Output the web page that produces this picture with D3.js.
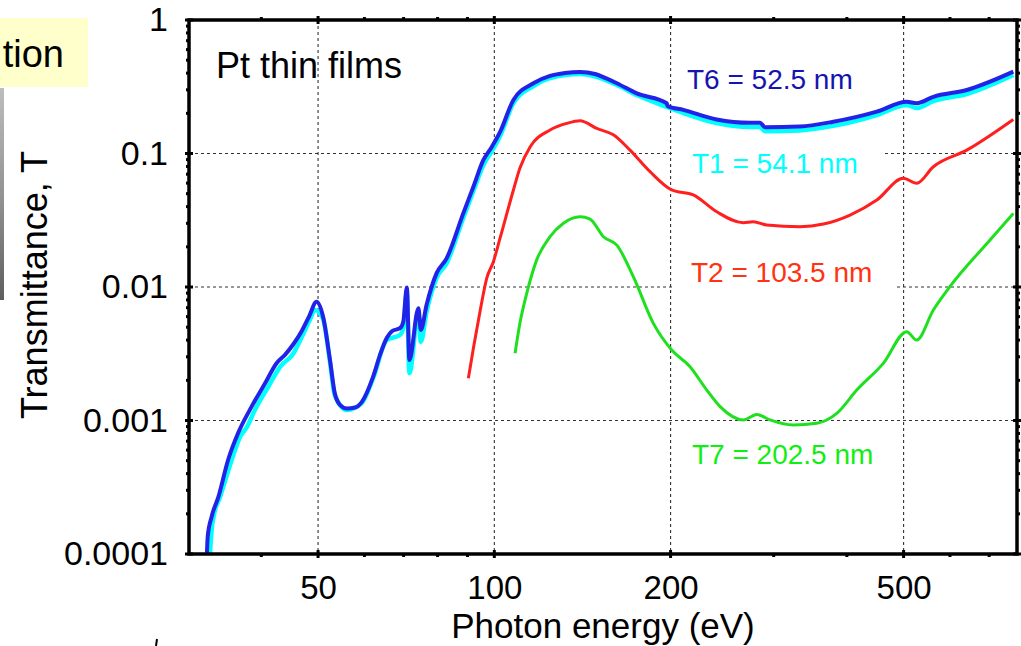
<!DOCTYPE html>
<html>
<head>
<meta charset="utf-8">
<script src="https://cdn.jsdelivr.net/npm/d3@7"></script>
<style>
  body { margin: 0; background: #ffffff; overflow: hidden; }
</style>
</head>
<body>
<div id="chart"></div>
<script>
// Photon energy (eV) / transmittance, one pair of arrays per film
const t6Energy = [32.3, 32.4, 32.9, 33.8, 35.1, 36.5, 38.5, 40.6, 42.5, 43.9, 45.4, 46.9, 48.3, 49.7, 51.0,
  52.4, 53.4, 54.5, 56.0, 57.8, 59.4, 62.1, 63.8, 65.5, 66.9, 69.0, 69.9, 70.9, 71.6, 74.2, 74.9, 76.6,
  79.7, 82.9, 88.5, 92.1, 95.8, 99.0, 102.3, 107.8, 116.6, 124.5, 132.1, 140.1, 148.6, 154.6, 161.9,
  175.1, 197.0, 197.6, 210.3, 239.8, 273.3, 284.3, 290.0, 332.7, 379.3, 450.0, 506.2, 526.4, 562.1,
  641.0, 769.8];
const t6Trans = [1.02e-4, 1.35e-4, 1.90e-4, 2.69e-4, 5.06e-4, 8.02e-4, 1.27e-3, 1.90e-3, 2.70e-3, 3.10e-3,
  3.74e-3, 4.68e-3, 6.06e-3, 7.76e-3, 5.99e-3, 2.84e-3, 1.60e-3, 1.31e-3, 1.23e-3, 1.25e-3, 1.38e-3,
  2.13e-3, 3.10e-3, 4.15e-3, 4.68e-3, 4.91e-3, 5.47e-3, 9.91e-3, 2.84e-3, 6.92e-3, 4.76e-3, 7.33e-3,
  0.0127, 0.0164, 0.0356, 0.0564, 0.0894, 0.112, 0.145, 0.252, 0.336, 0.381, 0.401, 0.408, 0.394, 0.368,
  0.336, 0.282, 0.238, 0.227, 0.212, 0.180, 0.170, 0.170, 0.157, 0.159, 0.173, 0.206, 0.244, 0.238,
  0.266, 0.299, 0.410];

const t1Energy = [32.7, 32.9, 33.2, 34.0, 35.6, 36.8, 37.8, 39.0, 41.1, 43.1, 45.4, 46.9, 48.4, 49.4, 51.0,
  52.4, 53.4, 56.0, 59.4, 62.1, 65.5, 69.0, 69.9, 70.9, 71.6, 74.2, 74.9, 76.6, 79.7, 82.9, 88.5, 92.1,
  95.8, 99.0, 102.3, 107.8, 116.6, 124.5, 140.1, 161.9, 175.1, 197.0, 210.3, 239.8, 273.3, 284.3, 290.0,
  332.7, 379.3, 450.0, 506.2, 526.4, 562.1, 641.0, 769.8];
const t1Trans = [1.02e-4, 1.51e-4, 1.96e-4, 2.67e-4, 5.06e-4, 7.56e-4, 8.94e-4, 1.20e-3, 1.79e-3, 2.53e-3,
  3.19e-3, 4.22e-3, 5.66e-3, 6.73e-3, 5.76e-3, 2.74e-3, 1.55e-3, 1.20e-3, 1.35e-3, 2.08e-3, 4.01e-3,
  4.37e-3, 4.93e-3, 9.17e-3, 2.26e-3, 6.50e-3, 3.89e-3, 6.50e-3, 0.0117, 0.0151, 0.0329, 0.0524, 0.0820,
  0.104, 0.135, 0.239, 0.320, 0.368, 0.394, 0.326, 0.274, 0.223, 0.201, 0.169, 0.158, 0.158, 0.147,
  0.149, 0.161, 0.194, 0.231, 0.219, 0.247, 0.279, 0.387];

const t2Energy = [90.3, 92.3, 94.5, 97.1, 99.6, 102.3, 107.8, 110.6, 115.1, 124.5, 132.9, 140.1, 149.6,
  159.7, 170.5, 184.5, 200.9, 218.7, 239.8, 266.2, 277.0, 291.9, 332.7, 364.7, 405.1, 450.0, 499.3,
  526.4, 562.1, 641.0, 769.8];
const t2Trans = [2.07e-3, 3.68e-3, 6.50e-3, 0.0117, 0.0154, 0.0233, 0.0533, 0.0779, 0.112, 0.150, 0.168,
  0.176, 0.154, 0.138, 0.106, 0.0731, 0.0533, 0.0489, 0.0366, 0.0303, 0.0308, 0.0291, 0.0283, 0.0296,
  0.0346, 0.0448, 0.0652, 0.0598, 0.0796, 0.106, 0.180];

const t7Energy = [108.5, 110.6, 113.6, 118.1, 124.5, 131.2, 140.1, 145.7, 153.6, 161.9, 172.8, 186.9,
  200.9, 215.9, 230.6, 243.0, 266.2, 280.6, 295.7, 324.1, 355.3, 384.4, 415.9, 461.6, 506.2, 526.4,
  562.1, 600.2, 702.4, 769.8];
const t7Trans = [3.19e-3, 5.37e-3, 8.97e-3, 0.0159, 0.0238, 0.0300, 0.0336, 0.0323, 0.0238, 0.0206,
  0.0119, 5.34e-3, 3.37e-3, 2.53e-3, 1.69e-3, 1.27e-3, 1.01e-3, 1.11e-3, 1.01e-3, 9.25e-4, 9.53e-4,
  1.13e-3, 1.69e-3, 2.68e-3, 4.63e-3, 4.01e-3, 6.73e-3, 0.0101, 0.0225, 0.0356];

// axis ticks
const xMajorTicks = [50, 100, 200, 500];
const xMinorTicks = [40, 60, 70, 80, 90, 300, 400, 600, 700];
const yMajorTicks = [1e-4, 1e-3, 1e-2, 1e-1, 1];
const yTickLabels = ["0.0001", "0.001", "0.01", "0.1", "1"];
const yGridTicks = [1e-3, 1e-2, 1e-1];

const seriesNames = ["T2 = 103.5 nm", "T7 = 202.5 nm", "T1 = 54.1 nm", "T6 = 52.5 nm"];

function main(container) {
  const sel = d3.select(container);
  const width = 1021;
  const height = 646;
  const font = "'Liberation Sans', Arial, Helvetica, sans-serif";

  sel.selectAll("svg").remove();

  const svg = sel
    .append("svg")
    .attr("width", width)
    .attr("height", height)
    .style("display", "block")
    .style("background", "#ffffff");

  const left = 189, right = 1017, top = 20, bottom = 554;

  const x = d3.scaleLog().domain([30.1, 781]).range([left, right]);
  const y = d3.scaleLog().domain([1e-4, 1]).range([bottom, top]);

  const defs = svg.append("defs");
  defs.append("clipPath").attr("id", "plot-clip")
    .append("rect")
    .attr("x", left).attr("y", top)
    .attr("width", right - left).attr("height", bottom - top);

  const grad = defs.append("linearGradient").attr("id", "strip")
    .attr("x1", 0).attr("y1", 0).attr("x2", 0).attr("y2", 1);
  grad.append("stop").attr("offset", "0%").attr("stop-color", "#bdbdbd");
  grad.append("stop").attr("offset", "55%").attr("stop-color", "#8f8f8f");
  grad.append("stop").attr("offset", "100%").attr("stop-color", "#5e5e5e");

  // 1. slide leftovers on the left edge
  svg.append("rect")
    .attr("x", 0).attr("y", 18).attr("width", 88).attr("height", 69)
    .attr("fill", "#ffffcc");
  svg.append("text")
    .attr("x", 64).attr("y", 67)
    .attr("text-anchor", "end")
    .attr("font-family", font).attr("font-size", "38px")
    .attr("fill", "#000")
    .text("tion");
  svg.append("rect")
    .attr("x", 0).attr("y", 88).attr("width", 4).attr("height", 212)
    .attr("fill", "url(#strip)");
  svg.append("line")
    .attr("x1", 157).attr("y1", 639).attr("x2", 156).attr("y2", 646)
    .attr("stroke", "#000").attr("stroke-width", 2);

  // 2. dashed grid
  const grid = svg.append("g").attr("class", "grid")
    .attr("stroke", "#333").attr("stroke-width", 1.1)
    .attr("stroke-dasharray", "3,3");
  grid.selectAll("line.vx")
    .data(xMajorTicks)
    .enter().append("line")
    .attr("class", "vx")
    .attr("x1", (d) => x(d)).attr("x2", (d) => x(d))
    .attr("y1", top).attr("y2", bottom);
  grid.selectAll("line.hy")
    .data(yGridTicks)
    .enter().append("line")
    .attr("class", "hy")
    .attr("x1", left).attr("x2", right)
    .attr("y1", (d) => y(d)).attr("y2", (d) => y(d));

  // white boxes behind two labels hide the grid
  svg.append("rect").attr("x", 672).attr("y", 141).attr("width", 211).attr("height", 40).attr("fill", "#fff");
  svg.append("rect").attr("x", 672).attr("y", 252).attr("width", 225).attr("height", 42).attr("fill", "#fff");

  // 3. curves
  const line = d3.line()
    .x((d) => x(d[0]))
    .y((d) => y(d[1]))
    .curve(d3.curveMonotoneX);

  const series = [
    { e: t2Energy, t: t2Trans, color: "#ff1f1f", w: 3 },
    { e: t7Energy, t: t7Trans, color: "#1fe01f", w: 3 },
    { e: t1Energy, t: t1Trans, color: "#00ffff", w: 4.5 },
    { e: t6Energy, t: t6Trans, color: "#2222e8", w: 4 },
  ];

  const curves = svg.append("g").attr("clip-path", "url(#plot-clip)");
  curves.selectAll("path")
    .data(series)
    .enter().append("path")
    .attr("d", (s) => line(s.e.map((v, i) => [v, s.t[i]])))
    .attr("fill", "none")
    .attr("stroke", (s) => s.color)
    .attr("stroke-width", (s) => s.w)
    .attr("stroke-linejoin", "round")
    .attr("stroke-linecap", "butt");

  // 4. frame and ticks
  svg.append("rect")
    .attr("x", left).attr("y", top)
    .attr("width", right - left).attr("height", bottom - top)
    .attr("fill", "none").attr("stroke", "#000").attr("stroke-width", 3.5);

  const yMinorTicks = [];
  yMajorTicks.slice(0, -1).forEach((dec) => {
    for (let k = 2; k <= 9; k++) yMinorTicks.push(dec * k);
  });

  const ticks = svg.append("g").attr("stroke", "#000");
  // bottom / top
  [bottom, top].forEach((yy, side) => {
    const dir = side === 0 ? 1 : -1;
    ticks.selectAll(null).data(xMajorTicks).enter().append("line")
      .attr("x1", (d) => x(d)).attr("x2", (d) => x(d))
      .attr("y1", yy - 4 * dir).attr("y2", yy + 4 * dir)
      .attr("stroke-width", 3);
    ticks.selectAll(null).data(xMinorTicks).enter().append("line")
      .attr("x1", (d) => x(d)).attr("x2", (d) => x(d))
      .attr("y1", yy - 1 * dir).attr("y2", yy + 3 * dir)
      .attr("stroke-width", 3);
  });
  // left / right
  [left, right].forEach((xx, side) => {
    const dir = side === 0 ? -1 : 1;
    ticks.selectAll(null).data(yMajorTicks).enter().append("line")
      .attr("y1", (d) => y(d)).attr("y2", (d) => y(d))
      .attr("x1", xx - 4 * dir).attr("x2", xx + 4 * dir)
      .attr("stroke-width", 3);
    ticks.selectAll(null).data(yMinorTicks).enter().append("line")
      .attr("y1", (d) => y(d)).attr("y2", (d) => y(d))
      .attr("x1", xx - 1 * dir).attr("x2", xx + 3 * dir)
      .attr("stroke-width", 3);
  });

  // 5. tick labels through d3 axes
  const xAxis = d3.axisBottom(x)
    .tickValues(xMajorTicks)
    .tickFormat(d3.format("d"))
    .tickSize(0)
    .tickPadding(22);
  const gx = svg.append("g").attr("transform", `translate(0,${bottom})`).call(xAxis);

  const yAxis = d3.axisLeft(y)
    .tickValues(yMajorTicks)
    .tickFormat((d, i) => yTickLabels[i])
    .tickSize(0)
    .tickPadding(21);
  const gy = svg.append("g").attr("transform", `translate(${left},0)`).call(yAxis);

  gx.select(".domain").remove();
  gx.selectAll("text")
    .attr("font-family", font)
    .attr("font-size", "33px")
    .attr("fill", "#000");
  gy.select(".domain").remove();
  gy.selectAll("text")
    .attr("font-family", font)
    .attr("font-size", "34px")
    .attr("fill", "#000");

  // 6. axis titles and annotations
  svg.append("text")
    .attr("x", (left + right) / 2).attr("y", 638)
    .attr("text-anchor", "middle")
    .attr("font-family", font).attr("font-size", "35px")
    .text("Photon energy (eV)");

  svg.append("text")
    .attr("transform", "translate(47,285) rotate(-90)")
    .attr("text-anchor", "middle")
    .attr("font-family", font).attr("font-size", "36px")
    .text("Transmittance, T");

  svg.append("text")
    .attr("x", 216).attr("y", 78)
    .attr("font-family", font).attr("font-size", "36px")
    .text("Pt thin films");

  const labels = [
    { text: seriesNames[3], x: 687, y: 89, color: "#1414b0" },
    { text: seriesNames[2], x: 692, y: 173, color: "#00ffff" },
    { text: seriesNames[0], x: 691, y: 282, color: "#ff3311" },
    { text: seriesNames[1], x: 692, y: 464, color: "#11ee11" },
  ];
  svg.selectAll("text.series-label")
    .data(labels)
    .enter().append("text")
    .attr("class", "series-label")
    .attr("x", (d) => d.x).attr("y", (d) => d.y)
    .attr("font-family", font).attr("font-size", "28px")
    .attr("fill", (d) => d.color)
    .text((d) => d.text);
}

main(document.getElementById("chart"));
</script>
</body>
</html>
